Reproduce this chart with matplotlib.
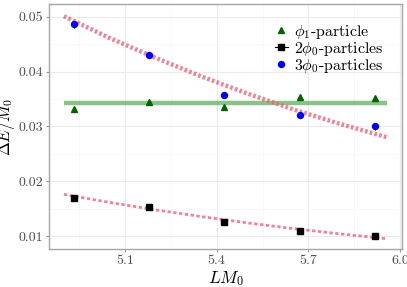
import numpy as np
import matplotlib
matplotlib.use("Agg")
import matplotlib.pyplot as plt

plt.rcParams['mathtext.fontset'] = 'cm'
plt.rcParams['font.family'] = ['cmr10', 'DejaVu Serif']
plt.rcParams['axes.unicode_minus'] = False

# data
L = [4.933, 5.179, 5.424, 5.673, 5.918]
phi1 = [0.0331, 0.0344, 0.0335, 0.0354, 0.0351]
phi1_err = [0.0003, 0.0002, 0.0003, 0.0002, 0.0002]
two_phi0 = [0.0169, 0.0153, 0.0125, 0.0109, 0.0100]
two_phi0_err = [0.0002, 0.0002, 0.0002, 0.0002, 0.0002]
three_phi0 = [0.0486, 0.0430, 0.0357, 0.0320, 0.0300]
three_phi0_err = [0.0007, 0.0004, 0.0004, 0.0003, 0.0006]

# fit curves
L_fit = [4.90, 5.05, 5.20, 5.35, 5.50, 5.65, 5.80, 5.957]
fit_three = [0.0501, 0.0461, 0.0425, 0.0391, 0.0360, 0.0331, 0.0305, 0.0280]
fit_two = [0.01759, 0.01611, 0.01476, 0.01353, 0.01239, 0.01135, 0.01040, 0.00949]
phi1_const = 0.0343
L_const = [4.90, 5.957]

xticks = [5.1, 5.4, 5.7, 6.0]
xticklabels = ['5.1', '5.4', '5.7', '6.0']
yticks = [0.01, 0.02, 0.03, 0.04, 0.05]
yticklabels = ['0.01', '0.02', '0.03', '0.04', '0.05']

fig = plt.figure(figsize=(4.07, 2.87), dpi=100)
ax = fig.add_axes([0.121, 0.1324, 0.867, 0.8526])

# fits
ax.plot(L_const, [phi1_const, phi1_const], color='#3C9A3C', alpha=0.6, lw=3.2,
        solid_capstyle='butt', zorder=2)
ax.plot(L_fit, fit_three, color='#EE5A74', alpha=0.75, lw=3.2,
        dashes=(0.6, 0.5), zorder=2)
ax.plot(L_fit, fit_two, color='#EE5A74', alpha=0.75, lw=2.0,
        dashes=(1.2, 0.9), zorder=2)

# data points
ax.errorbar(L, phi1, yerr=phi1_err, fmt='^', color='#006400', ms=5,
            elinewidth=0.8, capsize=0, zorder=3)
ax.errorbar(L, two_phi0, yerr=two_phi0_err, fmt='s', color='black', ms=4.3,
            elinewidth=0.8, capsize=0, zorder=3)
ax.errorbar(L, three_phi0, yerr=three_phi0_err, fmt='o', color='blue', ms=4.3,
            elinewidth=0.8, capsize=0, zorder=3)

# legend handles
h1, = ax.plot([], [], '^', color='#006400', ms=5, label=r'$\phi_1$-particle')
h2, = ax.plot([], [], 's-', color='black', ms=4.3, lw=0.8, label=r'$2\phi_0$-particles')
h3, = ax.plot([], [], 'o', color='blue', ms=4.3, label=r'$3\phi_0$-particles')

ax.set_xlim(4.852, 6.0066)
ax.set_ylim(0.00762, 0.05227)
ax.set_xticks(xticks)
ax.set_xticklabels(xticklabels)
ax.set_yticks(yticks)
ax.set_yticklabels(yticklabels)
ax.set_xticks([4.95, 5.25, 5.55, 5.85], minor=True)
ax.set_yticks([0.015, 0.025, 0.035, 0.045], minor=True)

ax.grid(True, which='major', color='#EBEBEB', lw=0.8)
ax.grid(True, which='minor', color='#F5F5F5', lw=0.5)
ax.set_axisbelow(True)
ax.tick_params(which='major', length=2.5, width=0.8, color='#999999',
               labelcolor='#4D4D4D', labelsize=10, pad=2)
ax.tick_params(which='minor', length=0)
for s in ax.spines.values():
    s.set_color('#A6A6A6')
    s.set_linewidth(1.0)

ax.set_xlabel(r'$LM_0$', fontsize=12.5, labelpad=1)
ax.set_ylabel(r'$\Delta E/M_0$', fontsize=12, labelpad=1)

leg = ax.legend(handles=[h1, h2, h3], loc='upper left',
                bbox_to_anchor=(0.64, 0.925), frameon=False,
                fontsize=11.5, handlelength=0.8, handletextpad=0.4,
                labelspacing=-0.05, borderaxespad=0.0, borderpad=0.0)

fig.savefig('out.png', dpi=100)
